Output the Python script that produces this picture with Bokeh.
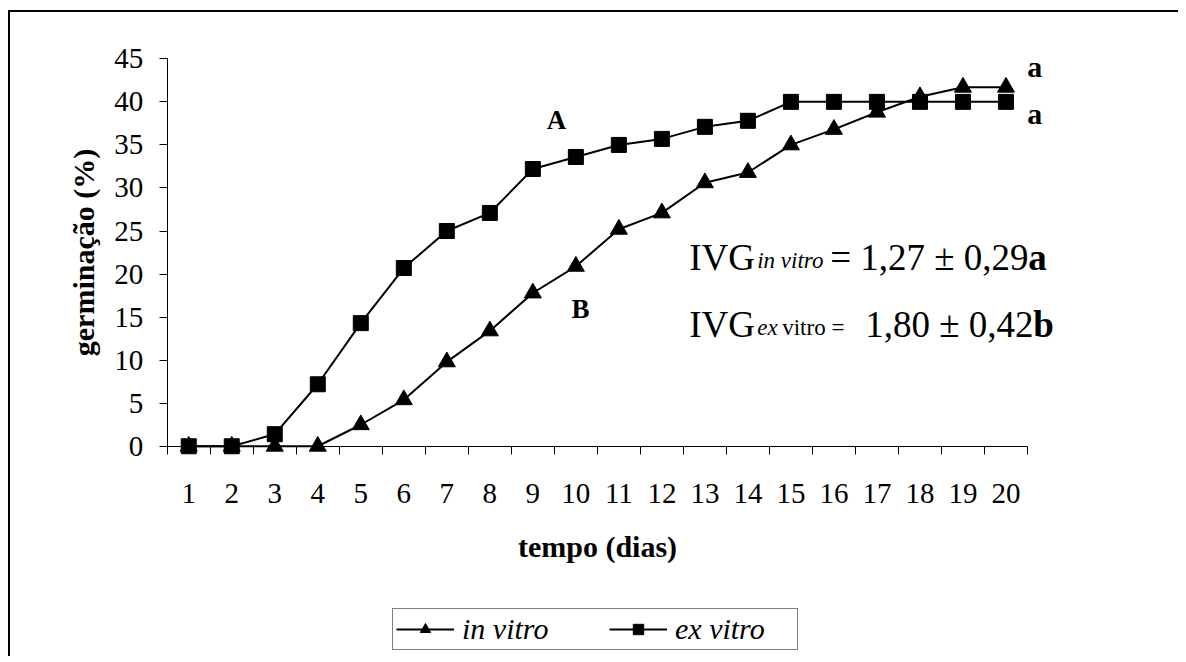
from bokeh.plotting import figure
from bokeh.models import Label, Legend, LegendItem, FixedTicker, Range1d
from bokeh.embed import file_html
from bokeh.resources import INLINE

# ---- data ----
days = list(range(1, 21))
in_vitro = [0, 0, 0, 0, 2.5, 5.4, 9.8, 13.4, 17.8, 20.9, 25.2, 27.1, 30.6, 31.8, 35.0, 36.8, 38.8, 40.6, 41.7, 41.7]
ex_vitro = [0, 0, 1.4, 7.2, 14.3, 20.7, 25.0, 27.1, 32.2, 33.6, 35.0, 35.7, 37.1, 37.8, 40.0, 40.0, 40.0, 40.0, 40.0, 40.0]
y_ticks = list(range(0, 50, 5))
x_tick_labels = [str(d) for d in days]
series_names = ["in vitro", "ex vitro"]
x_title = "tempo (dias)"
y_title = "germinação (%)"

FONT = "Liberation Serif"

# The frame covers the whole canvas (so that nothing outside the plotting
# area is clipped); both axes are pinned at x = 0.5 and y = 0 and limited
# with bounds to the real data area.
p = figure(width=1170, height=646,
           x_range=Range1d(-3.144, 21.5), y_range=Range1d(-24.65, 50.38),
           output_backend="svg", toolbar_location=None,
           min_border_left=0, min_border_right=110,
           min_border_top=0, min_border_bottom=0)
p.margin = (10, 0, 0, 8)
p.styles = {"border-left": "2px solid black", "border-top": "2px solid black"}
p.outline_line_color = None
p.xgrid.visible = False
p.ygrid.visible = False
p.background_fill_color = "white"
p.border_fill_color = "white"

# x axis: labels at day centres, tick marks between days
xax = p.xaxis[0]
xax.fixed_location = 0
xax.bounds = (0.5, 20.5)
xax.ticker = FixedTicker(ticks=days, minor_ticks=[d - 0.5 for d in days] + [days[-1] + 0.5])
xax.major_label_overrides = {d: lab for d, lab in zip(days, x_tick_labels)}
xax.major_tick_line_color = None
xax.major_tick_out = 0
xax.major_tick_in = 0
xax.minor_tick_line_color = "black"
xax.minor_tick_out = 8
xax.minor_tick_in = 0
xax.major_label_standoff = 30
xax.major_label_text_font = FONT
xax.major_label_text_font_size = "29px"
xax.major_label_text_color = "black"
xax.axis_line_color = "black"
xax.axis_label = x_title
xax.axis_label_text_font = FONT
xax.axis_label_text_font_style = "bold"
xax.axis_label_text_font_size = "30px"
xax.axis_label_text_color = "black"
xax.axis_label_standoff = 23

yax = p.yaxis[0]
yax.fixed_location = 0.5
yax.bounds = (0, 45)
yax.ticker = FixedTicker(ticks=y_ticks)
yax.major_tick_out = 8
yax.major_tick_in = 0
yax.major_tick_line_color = "black"
yax.minor_tick_line_color = None
yax.axis_line_color = "black"
yax.major_label_standoff = 16
yax.major_label_text_font = FONT
yax.major_label_text_font_size = "29px"
yax.major_label_text_color = "black"
yax.axis_label = y_title
yax.axis_label_text_font = FONT
yax.axis_label_text_font_style = "bold"
yax.axis_label_text_font_size = "30px"
yax.axis_label_text_color = "black"
yax.axis_label_standoff = 12

# ---- series ----
l_ex = p.line(days, ex_vitro, line_width=2, line_color="black")
s_ex = p.scatter(days, ex_vitro, marker="square", size=15, fill_color="black", line_color="black")
l_in = p.line(days, in_vitro, line_width=2, line_color="black")
s_in = p.scatter(days, in_vitro, marker="triangle", size=17, fill_color="black", line_color="black")

legend = Legend(items=[LegendItem(label=series_names[0], renderers=[l_in, s_in]),
                       LegendItem(label=series_names[1], renderers=[l_ex, s_ex])],
                location=(382, 8), orientation="horizontal",
                padding=3, spacing=28, glyph_width=58, glyph_height=26,
                label_standoff=8, label_width=119,
                label_text_font=FONT, label_text_font_style="italic",
                label_text_font_size="30px", label_text_color="black",
                border_line_color="black", border_line_width=1,
                background_fill_color="white", background_fill_alpha=1, margin=0)
p.add_layout(legend)

# ---- annotations ----
def lab(x, y, text, size, style="normal", align="center", xo=0, yo=0):
    p.add_layout(Label(x=x, y=y, text=text, text_font=FONT, text_font_size=size,
                       text_font_style=style, text_align=align,
                       text_baseline="alphabetic", text_color="black",
                       x_offset=xo, y_offset=yo))

lab(9.55, 37.95, "A", "27px", "bold")
lab(10.11, 16.0, "B", "27px", "bold")
lab(20.67, 44.1, "a", "30px", "bold")
lab(20.67, 38.6, "a", "30px", "bold")

ivg_x = 12.635
ivg_y1 = 21.95
ivg_y2 = 14.15
lab(ivg_x, ivg_y1, "IVG", "37px", align="left")
lab(ivg_x, ivg_y1, "in vitro", "23px", "italic", align="left", xo=68, yo=-3)
lab(ivg_x, ivg_y1, "= 1,27 ± 0,29", "37px", align="left", xo=141)
lab(ivg_x, ivg_y1, "a", "37px", "bold", align="left", xo=339)

lab(ivg_x, ivg_y2, "IVG", "37px", align="left")
lab(ivg_x, ivg_y2, "ex", "23px", "italic", align="left", xo=68, yo=-3)
lab(ivg_x, ivg_y2, "vitro =", "23px", align="left", xo=93, yo=-3)
lab(ivg_x, ivg_y2, "1,80 ± 0,42", "37px", align="left", xo=176)
lab(ivg_x, ivg_y2, "b", "37px", "bold", align="left", xo=344)

open("out.html", "w").write(file_html(p, INLINE))
